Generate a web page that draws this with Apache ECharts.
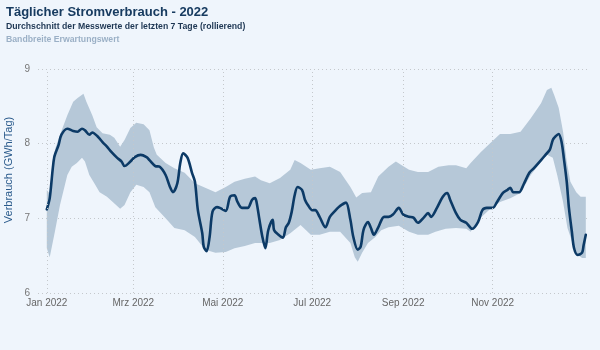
<!DOCTYPE html>
<html>
<head>
<meta charset="utf-8">
<script src="https://cdn.jsdelivr.net/npm/echarts@6/dist/echarts.min.js"></script>
<style>
  html, body { margin: 0; padding: 0; background: #eff5fc; }
  #chart { width: 600px; height: 350px; }
</style>
</head>
<body>
<div id="chart"></div>
<script>
// x values are days since 1 Jan 2022
var monthTickDays = [0, 59, 120, 181, 243, 304];
var monthLabels = ['Jan 2022', 'Mrz 2022', 'Mai 2022', 'Jul 2022', 'Sep 2022', 'Nov 2022'];

// 7-day rolling average (GWh/Tag)
var consumption = [
  [0,7.12],[2,7.27],[5,7.81],[8,7.98],[10,8.12],[14,8.20],[18,8.17],[21,8.16],[24,8.20],[26,8.18],
  [29,8.12],[31,8.15],[35,8.09],[38,8.02],[41,7.96],[44,7.89],[48,7.81],[51,7.76],[53,7.70],[57,7.76],
  [60,7.82],[64,7.85],[68,7.82],[70,7.78],[74,7.70],[77,7.69],[81,7.58],[84,7.42],[86,7.35],[89,7.47],
  [91,7.74],[93,7.87],[96,7.81],[99,7.61],[101,7.49],[103,7.11],[106,6.80],[107,6.62],[109,6.56],[111,6.75],
  [113,7.09],[116,7.15],[118,7.14],[122,7.10],[125,7.29],[128,7.31],[130,7.22],[133,7.14],[137,7.14],[140,7.25],
  [142,7.27],[143,7.22],[145,6.98],[147,6.75],[149,6.60],[151,6.84],[154,6.98],[155,6.84],[158,6.78],[161,6.74],
  [163,6.88],[165,6.94],[167,7.09],[169,7.31],[171,7.42],[174,7.38],[176,7.25],[178,7.18],[181,7.11],[183,7.11],
  [186,7.02],[190,6.88],[193,7.02],[197,7.11],[199,7.15],[201,7.18],[204,7.21],[207,6.98],[209,6.75],[212,6.58],
  [214,6.62],[216,6.85],[219,6.95],[221,6.87],[223,6.78],[226,6.88],[230,7.02],[233,7.02],[236,7.05],[240,7.14],
  [243,7.05],[247,7.02],[250,7.01],[253,6.94],[257,7.01],[260,7.07],[262,7.02],[266,7.14],[270,7.29],[273,7.34],
  [275,7.25],[279,7.07],[282,6.98],[286,6.94],[290,6.86],[294,6.95],[297,7.11],[300,7.14],[304,7.14],[307,7.22],
  [311,7.34],[314,7.38],[316,7.41],[318,7.35],[322,7.35],[325,7.45],[329,7.61],[332,7.67],[337,7.78],[340,7.85],
  [343,7.92],[345,8.05],[347,8.10],[349,8.13],[351,8.02],[352.5,7.81],[354.5,7.49],[356,7.14],[358,6.82],[359.5,6.60],
  [362,6.51],[365,6.54],[366,6.64],[367.5,6.78]
];

// expected range, upper edge
var bandUpper = [
  [0,7.38],[2,7.33],[4,7.78],[6,7.95],[9,8.12],[14,8.38],[18,8.56],[21,8.61],[25,8.67],[27,8.56],
  [31,8.38],[34,8.22],[38,8.14],[43,8.12],[46,8.08],[50,7.96],[53,8.05],[57,8.21],[61,8.28],[66,8.26],
  [70,8.18],[73,7.95],[75,7.85],[81,7.74],[87,7.67],[94,7.61],[101,7.47],[108,7.41],[115,7.35],[122,7.42],
  [128,7.49],[135,7.53],[142,7.56],[146,7.51],[152,7.47],[159,7.54],[166,7.65],[169,7.78],[173,7.74],[180,7.65],
  [186,7.67],[193,7.69],[200,7.62],[207,7.42],[211,7.28],[215,7.34],[221,7.35],[226,7.56],[233,7.69],[238,7.76],
  [242,7.71],[247,7.65],[253,7.62],[260,7.62],[267,7.69],[274,7.71],[279,7.71],[286,7.67],[289,7.74],[296,7.89],
  [303,8.02],[309,8.13],[316,8.13],[323,8.16],[330,8.34],[337,8.54],[341,8.72],[344,8.75],[346,8.65],[349,8.48],
  [352,8.16],[354.5,7.76],[357,7.49],[361,7.35],[364,7.29],[367.5,7.29]
];

// expected range, lower edge
var bandLower = [
  [0,6.60],[2,6.48],[5.5,6.82],[9,7.18],[14,7.58],[17,7.69],[20.5,7.74],[24,7.81],[26,7.76],[29,7.58],
  [33,7.45],[36,7.35],[41,7.29],[45,7.22],[50,7.13],[53,7.18],[57,7.35],[61,7.45],[66,7.42],[70,7.35],
  [74,7.15],[81,7.00],[87,6.87],[94,6.84],[101,6.75],[108,6.58],[115,6.54],[122,6.55],[128,6.60],[135,6.63],
  [142,6.67],[146,6.67],[152,6.67],[159,6.71],[166,6.80],[173,6.91],[180,6.78],[186,6.78],[193,6.82],[200,6.82],
  [207,6.67],[210,6.48],[212,6.42],[215,6.54],[219,6.67],[224,6.75],[228,6.84],[233,6.88],[240,6.90],[247,6.82],
  [253,6.78],[260,6.78],[265,6.82],[272,6.86],[279,6.87],[286,6.86],[289,6.82],[296,7.01],[303,7.14],[309,7.22],
  [316,7.27],[323,7.34],[330,7.58],[337,7.76],[341,7.85],[345,7.81],[348,7.58],[352,7.22],[355,6.87],[359,6.64],
  [362,6.51],[365,6.47],[367.5,6.47]
];

var chart = echarts.init(document.getElementById('chart'));
var font = 'Liberation Sans';

var option = {
  backgroundColor: '#eff5fc',
  animation: false,
  title: [
    { text: 'Täglicher Stromverbrauch - 2022', left: 6, top: 6, padding: 0,
      textStyle: { fontFamily: font, fontSize: 13, fontWeight: 'bold', color: '#173b60' } },
    { text: 'Durchschnitt der Messwerte der letzten 7 Tage (rollierend)', left: 6, top: 22, padding: 0,
      textStyle: { fontFamily: font, fontSize: 8.7, fontWeight: 'bold', color: '#1d3653' } },
    { text: 'Bandbreite Erwartungswert', left: 6, top: 35, padding: 0,
      textStyle: { fontFamily: font, fontSize: 8.7, fontWeight: 'bold', color: '#9bb0c6' } }
  ],
  graphic: [
    {
      type: 'text',
      x: 9, y: 170,
      rotation: Math.PI / 2,
      style: {
        text: 'Verbrauch (GWh/Tag)',
        fill: '#2b5b8c',
        font: '11px "Liberation Sans"',
        align: 'center',
        verticalAlign: 'middle'
      }
    }
  ],
  grid: { left: 38, right: 12, top: 69, bottom: 57, containLabel: false, outerBoundsMode: 'none' },
  xAxis: {
    type: 'value',
    min: -6,
    max: 369,
    axisLine: { show: false },
    axisTick: { show: false },
    splitLine: { show: false },
    axisLabel: {
      customValues: monthTickDays,
      formatter: function (v) { return monthLabels[monthTickDays.indexOf(v)] || ''; },
      color: '#666', fontFamily: font, fontSize: 10, margin: 5
    }
  },
  yAxis: {
    type: 'value',
    min: 6, max: 9, interval: 1,
    axisLine: { show: false },
    axisTick: { show: false },
    axisLabel: { color: '#777', fontFamily: font, fontSize: 10, margin: 8 },
    splitLine: { lineStyle: { type: [1, 3], color: '#c4c8cc', width: 1 } }
  },
  series: [
    {
      // vertical month grid lines
      type: 'line',
      data: [],
      z: 1,
      silent: true,
      markLine: {
        silent: true,
        symbol: 'none',
        label: { show: false },
        lineStyle: { type: [1, 3], color: '#c4c8cc', width: 1 },
        data: monthTickDays.map(function (d) { return { xAxis: d }; })
      }
    },
    {
      type: 'custom',
      name: 'Bandbreite',
      z: 2,
      silent: true,
      data: [[0, 7]],
      renderItem: function (params, api) {
        var pts = bandUpper.map(function (p) { return api.coord(p); })
          .concat(bandLower.slice().reverse().map(function (p) { return api.coord(p); }));
        return { type: 'polygon', shape: { points: pts }, style: { fill: '#b6c8d8' } };
      }
    },
    {
      type: 'line',
      name: 'Verbrauch',
      z: 3,
      data: consumption,
      showSymbol: false,
      smooth: 0.3,
      lineStyle: { color: '#0c3a66', width: 2.6, cap: 'round', join: 'round' }
    }
  ]
};

chart.setOption(option);
</script>
</body>
</html>
